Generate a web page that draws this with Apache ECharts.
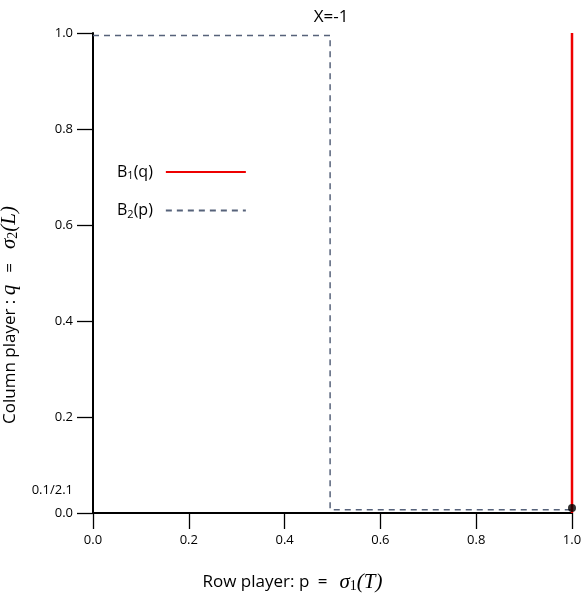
<!DOCTYPE html>
<html><head><meta charset="utf-8">
<script src="https://cdn.jsdelivr.net/npm/echarts@6/dist/echarts.min.js"></script>
<style>html,body{margin:0;padding:0;background:#fff}#c{width:587px;height:596px}</style>
</head><body><div id="c"></div>
<script>
const b1Points = [[1.0, 0.0], [1.0, 1.0]];
const b2Points = [[0.0, 0.995], [0.495, 0.995], [0.495, 0.007], [1.0, 0.007]];
const eqPoint = [[1.0, 0.0104]];
const xTicks = [0, 0.2, 0.4, 0.6, 0.8, 1.0];
const yTicks = [0, 0.2, 0.4, 0.6, 0.8, 1.0];
const yExtraLabel = 0.1 / 2.1;
const yLabelValues = [0, yExtraLabel, 0.2, 0.4, 0.6, 0.8, 1.0];
const titleText = 'X=-1';

const font = '"Open Sans", "Noto Sans", sans-serif';
const mathFont = '"Liberation Serif", "DejaVu Serif", serif';
const chart = echarts.init(document.getElementById('c'));
chart.setOption({
  animation: false,
  title: { text: titleText, left: 326, top: 4, textAlign: 'center',
    textStyle: { fontFamily: font, fontWeight: 'normal', fontSize: 17, color: '#000' } },
  grid: { left: 93, right: 15, top: 33, bottom: 83, containLabel: false, outerBoundsMode: 'none' },
  legend: {
    orient: 'vertical', left: 112, top: 159, align: 'right', itemWidth: 80, itemHeight: 14, itemGap: 21,
    data: ['B1(q)', 'B2(p)'],
    itemStyle: { opacity: 0 },
    formatter: n => n === 'B1(q)' ? '{n|B}{s|1}{n|(q)}' : '{n|B}{s|2}{n|(p)}',
    textStyle: { fontFamily: font, color: '#000', padding: [0, 8, 0, 0],
      rich: { n: { fontFamily: font, fontSize: 16, color: '#000' },
              s: { fontFamily: font, fontSize: 11, color: '#000', verticalAlign: 'bottom', padding: [8, 0, 0, 0] } } }
  },
  xAxis: {
    type: 'value', min: 0, max: 1, interval: 0.2,
    name: '{n|Row player: p }{e|=}{m|σ}{sub|1}{m|(T)}', nameLocation: 'middle', nameGap: 58,
    nameTextStyle: { padding: [0, 80, 0, 0], rich: {
      n: { fontFamily: font, fontSize: 17, color: '#000' },
      e: { fontFamily: font, fontSize: 17, color: '#000', padding: [0, 12, 0, 4] },
      m: { fontFamily: mathFont, fontStyle: 'italic', fontSize: 21, color: '#000' },
      sub: { fontFamily: mathFont, fontSize: 14, color: '#000', verticalAlign: 'bottom', padding: [8, 0, 0, 0] } } },
    axisLine: { show: true, onZero: false, lineStyle: { color: '#000', width: 2 } },
    axisTick: { show: true, length: 16, lineStyle: { color: '#000', width: 1.3 } },
    axisLabel: { fontFamily: font, fontSize: 13, color: '#000', margin: 21, formatter: v => v.toFixed(1) },
    splitLine: { show: false }
  },
  yAxis: {
    type: 'value', min: 0, max: 1,
    name: '{n|Column player : }{m|q}{e|=}{m|σ}{sub|2}{m|(L)}', nameLocation: 'middle', nameGap: 58, nameRotate: 90,
    nameTextStyle: { padding: [0, 84, 0, 0], rich: {
      n: { fontFamily: font, fontSize: 17, color: '#000' },
      e: { fontFamily: font, fontSize: 17, color: '#000', padding: [0, 14, 0, 12] },
      m: { fontFamily: mathFont, fontStyle: 'italic', fontSize: 21, color: '#000' },
      sub: { fontFamily: mathFont, fontSize: 14, color: '#000', verticalAlign: 'bottom', padding: [8, 0, 0, 0] } } },
    axisLine: { show: true, onZero: false, lineStyle: { color: '#000', width: 2 } },
    axisTick: { show: true, length: 16, customValues: yTicks, lineStyle: { color: '#000', width: 1.3 } },
    axisLabel: { fontFamily: font, fontSize: 13, color: '#000', margin: 20, customValues: yLabelValues,
      formatter: v => Math.abs(v - yExtraLabel) < 1e-6 ? '0.1/2.1' : v.toFixed(1) },
    splitLine: { show: false }
  },
  series: [
    { name: 'B1(q)', type: 'line', data: b1Points, symbol: 'none', z: 3,
      lineStyle: { color: '#ee0000', width: 2.5 }, itemStyle: { color: '#ee0000' } },
    { name: 'B2(p)', type: 'line', data: b2Points, symbol: 'none', z: 2,
      lineStyle: { color: '#56627a', width: 1.5, type: [6, 5] }, itemStyle: { color: '#56627a' } },
    { name: 'eq', type: 'scatter', data: eqPoint, symbolSize: 8, z: 5,
      itemStyle: { color: '#000' } }
  ]
});
</script></body></html>
